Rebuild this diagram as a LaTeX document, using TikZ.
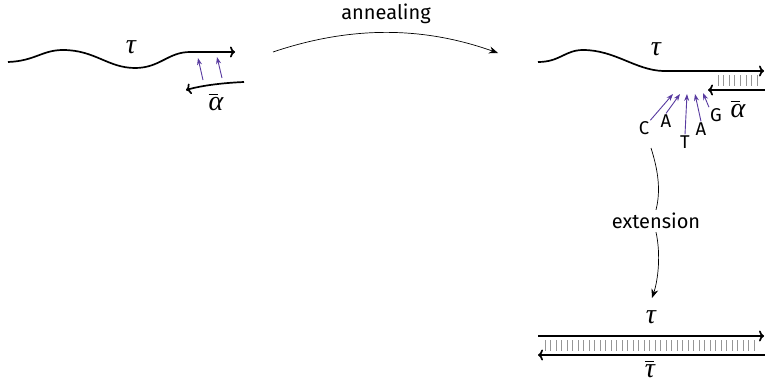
\documentclass[tikz,border=0pt]{standalone}
\usepackage{fontspec}
\setmainfont{Fira Sans}
\newfontfamily\grk{Liberation Serif Italic}
\usetikzlibrary{arrows.meta}
\definecolor{nucl}{RGB}{88,58,160}
\definecolor{tickgray}{RGB}{150,150,150}
\newcommand{\tauL}{{\grk τ}}
\newcommand{\barred}[1]{\vbox{\hrule height 1pt width 0.32em\kern 2.5pt\hbox{#1}}}
\begin{document}
\begin{tikzpicture}[x=1pt,y=-1pt,
  strand/.style={line width=1.7pt,-{To[length=5pt,width=11pt]}},
  hbond/.style={tickgray,line width=0.7pt},
  flow/.style={line width=0.7pt,-{Stealth[length=9pt,width=7pt]}},
  nucarrow/.style={nucl,line width=0.9pt,-{Stealth[length=7pt,width=5pt]}},
  lbl/.style={font=\fontsize{20}{24}\selectfont,inner sep=1pt},
  glbl/.style={font=\fontsize{28}{30}\selectfont,inner sep=0pt},
  base/.style={font=\fontsize{18.5}{20}\selectfont,inner sep=1pt}]
\useasboundingbox (0,0) rectangle (765,383);

% ---------- left: template + primer ----------
\coordinate (l0) at (8,62);
\coordinate (l1) at (235,52);
\draw[strand] (l0) .. controls (35,61) and (42,50) .. (63,50)
  .. controls (95,50) and (108,68) .. (135,68)
  .. controls (160,68) and (168,52) .. (190,52) -- (l1);
\node[glbl] (tauA) at (131,47) {\tauL};
\coordinate (p0) at (244,82);
\coordinate (p1) at (186,90);
\draw[strand] (p0) .. controls (220,83) and (200,86) .. (p1);
\node[glbl] (alA) at (216,102) {\barred{\grk α}};
\coordinate (a1s) at (203,80); \coordinate (a1e) at (198,58);
\coordinate (a2s) at (222,78); \coordinate (a2e) at (217,57);
\draw[nucarrow] (a1s) -- (a1e);
\draw[nucarrow] (a2s) -- (a2e);

% ---------- annealing ----------
\coordinate (an0) at (273,52);
\coordinate (an1) at (498,53);
\draw[flow] (an0) .. controls (350,26) and (422,26) .. (an1);
\node[lbl] (ann) at (386,14) {annealing};

% ---------- right top ----------
\coordinate (r0) at (538,62);
\coordinate (r1) at (764,71);
\draw[strand] (r0) .. controls (560,62) and (565,50) .. (583,50)
  .. controls (615,50) and (635,70) .. (663,71) -- (r1);
\node[glbl] (tauB) at (656,49) {\tauL};
\foreach \x in {718,723.6,...,758} \draw[hbond] (\x,75) -- (\x,86);
\coordinate (q0) at (765,90);
\coordinate (q1) at (708,90);
\draw[strand] (q0) -- (q1);
\node[glbl] (alB) at (738,109) {\barred{\grk α}};

\node[base] (nC) at (644,128) {C};
\node[base] (nA1) at (666,121) {A};
\node[base] (nT) at (685,142) {T};
\node[base] (nA2) at (701,129) {A};
\node[base] (nG) at (716,115) {G};
\coordinate (t1) at (673,94);
\coordinate (t2) at (680,94);
\coordinate (t3) at (687,94);
\coordinate (t4) at (695,94);
\coordinate (t5) at (703,93);
\draw[nucarrow] (nC.north east) -- (t1);
\draw[nucarrow] (nA1.north) -- (t2);
\draw[nucarrow] (nT.north) -- (t3);
\draw[nucarrow] (nA2.north) -- (t4);
\draw[nucarrow] (nG.north west) -- (t5);

% ---------- extension ----------
\coordinate (e0) at (651,148);
\coordinate (e1) at (652,298);
\node[lbl,fill=white,inner sep=3pt] (ext) at (656,221) {extension};
\draw[line width=0.7pt] (e0) .. controls (658,170) and (661,190) .. (ext.north);
\draw[flow] (ext.south) .. controls (661,255) and (658,280) .. (e1);

% ---------- bottom duplex ----------
\coordinate (b0) at (538,336);
\coordinate (b1) at (764,336);
\coordinate (c0) at (765,355);
\coordinate (c1) at (538,355);
\draw[strand] (b0) -- (b1);
\draw[strand] (c0) -- (c1);
\foreach \x in {545,550.5,...,758} \draw[hbond] (\x,340) -- (\x,351);
\node[glbl] (tauC) at (651,317) {\tauL};
\node[glbl] (tauD) at (650,369.5) {\barred{\grk τ}};
\end{tikzpicture}
\end{document}
